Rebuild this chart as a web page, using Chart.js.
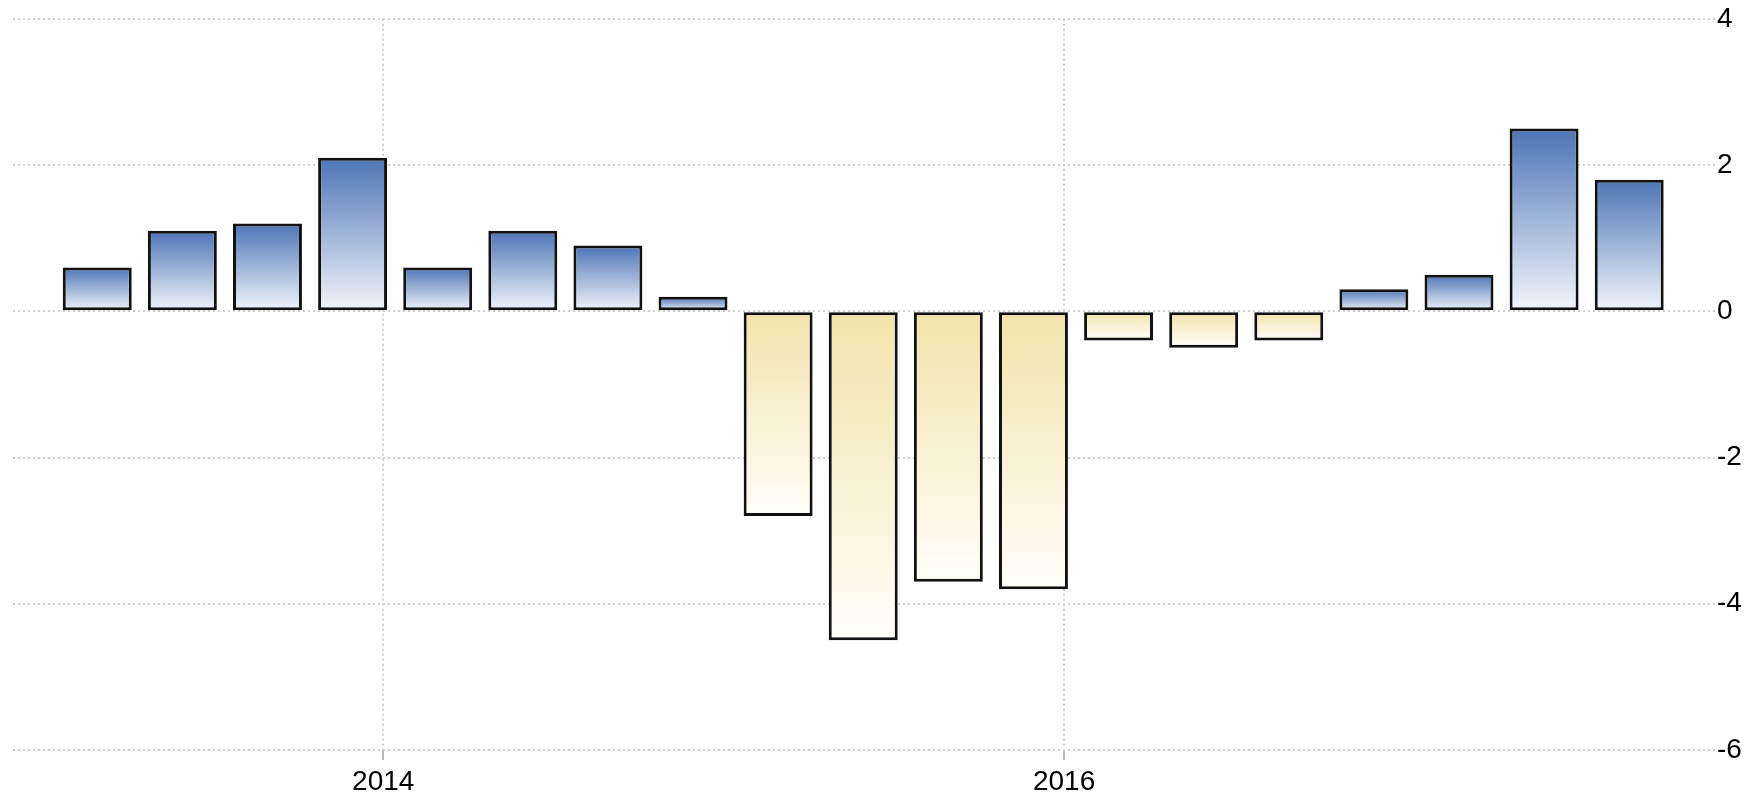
<!DOCTYPE html>
<html>
<head>
<meta charset="utf-8">
<title>GDP growth rate</title>
<script src="https://cdn.jsdelivr.net/npm/chart.js@4.4.1/dist/chart.umd.min.js"></script>
<style>
  html, body { margin: 0; padding: 0; background: #fff; }
  #chart { display: block; }
</style>
</head>
<body>
<canvas id="chart" width="1747" height="795"></canvas>
<script>
// quarterly growth (%)
const quarters = [
  "2013 Q1", "2013 Q2", "2013 Q3", "2013 Q4",
  "2014 Q1", "2014 Q2", "2014 Q3", "2014 Q4",
  "2015 Q1", "2015 Q2", "2015 Q3", "2015 Q4",
  "2016 Q1", "2016 Q2", "2016 Q3", "2016 Q4",
  "2017 Q1", "2017 Q2", "2017 Q3",
];
const growth = [
  0.6, 1.1, 1.2, 2.1,
  0.6, 1.1, 0.9, 0.2,
  -2.8, -4.5, -3.7, -3.8,
  -0.4, -0.5, -0.4, 0.3,
  0.5, 2.5, 1.8,
];
const xTickYears = [2014, 2016];
const yTickValues = [-6, -4, -2, 0, 2, 4];

// bars sit a bit after the start of their quarter on the time axis
const BAR_SHIFT = 0.16;
function quarterToYear(label) {
  const [year, q] = label.split(" Q");
  return Number(year) + (Number(q) - 1) * 0.25 + BAR_SHIFT;
}

const GRID = "#cfcfcf";
const FONT = { family: "'Liberation Sans', Arial, sans-serif", size: 28 };

function barGradient(ctx) {
  const chart = ctx.chart;
  const yScale = chart.scales.y;
  const v = ctx.parsed ? ctx.parsed.y : ctx.raw?.y;
  if (!chart.chartArea || !yScale || v == null) return "#7f9ccc";
  const yVal = yScale.getPixelForValue(v);
  const yZero = yScale.getPixelForValue(0);
  const top = Math.min(yVal, yZero);
  const bottom = Math.max(yVal, yZero);
  const g = chart.ctx.createLinearGradient(0, top, 0, bottom || top + 1);
  if (v >= 0) {
    g.addColorStop(0, "#4d74b6");
    g.addColorStop(1, "#f3f6fb");
  } else {
    g.addColorStop(0, "#f1e3a9");
    g.addColorStop(1, "#fffefa");
  }
  return g;
}

const ctx = document.getElementById("chart").getContext("2d");
new Chart(ctx, {
  type: "bar",
  data: {
    datasets: [
      {
        label: "GDP growth",
        data: quarters.map((q, i) => ({ x: quarterToYear(q), y: growth[i] })),
        backgroundColor: barGradient,
        borderColor: "#111",
        borderWidth: 3,
        borderSkipped: false,
        categoryPercentage: 1,
        barPercentage: 0.81,
      },
    ],
  },
  options: {
    responsive: false,
    animation: false,
    layout: { padding: { left: 13, right: 5, top: 0, bottom: 0 } },
    plugins: {
      legend: { display: false },
      tooltip: { enabled: false },
    },
    scales: {
      x: {
        type: "linear",
        min: 2012.9125,
        max: 2017.912,
        offset: false,
        grid: {
          offset: false,
          color: GRID,
          lineWidth: 2,
          drawTicks: true,
          tickLength: 10,
          tickColor: "#b8b8b8",
          tickWidth: 2,
        },
        border: { display: false, dash: [2, 3] },
        afterBuildTicks: (axis) => {
          axis.ticks = xTickYears.map((v) => ({ value: v }));
        },
        afterFit: (axis) => {
          axis.height = 45;
        },
        ticks: {
          color: "#000",
          font: FONT,
          padding: 5,
          maxRotation: 0,
          autoSkip: false,
          callback: (v) => String(v),
        },
      },
      y: {
        position: "right",
        min: -6,
        max: 4,
        grid: { color: GRID, lineWidth: 2, drawTicks: false },
        border: { display: false, dash: [2, 3] },
        afterBuildTicks: (axis) => {
          axis.ticks = yTickValues.map((v) => ({ value: v }));
        },
        afterFit: (axis) => {
          axis.width = 27;
        },
        ticks: {
          color: "#000",
          font: FONT,
          padding: 2,
          callback: (v) => String(v),
        },
      },
    },
  },
});
</script>
</body>
</html>
